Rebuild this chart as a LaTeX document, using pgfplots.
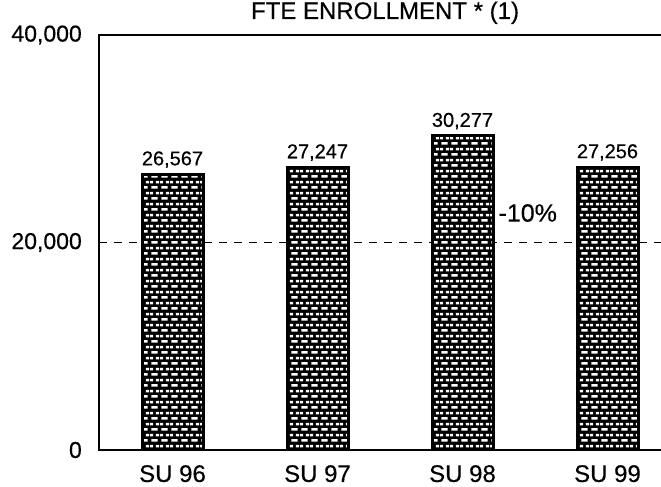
\documentclass[border=0pt]{standalone}
\usepackage{fontspec}
\setmainfont{Liberation Sans}[FakeBold=0.4]
\usepackage{pgfplots}
\pgfplotsset{compat=1.18}
\usetikzlibrary{patterns}

% white bricks on a black ground, about the size of the scanned ones
\pgfdeclarepatternformonly{whitebricks}{\pgfqpoint{0pt}{0pt}}{\pgfqpoint{10pt}{11.2pt}}{\pgfqpoint{10pt}{11.2pt}}{%
  \pgfpathrectangle{\pgfqpoint{1.5pt}{1.5pt}}{\pgfqpoint{7pt}{2.6pt}}%
  \pgfpathrectangle{\pgfqpoint{0pt}{7.1pt}}{\pgfqpoint{3.5pt}{2.6pt}}%
  \pgfpathrectangle{\pgfqpoint{6.5pt}{7.1pt}}{\pgfqpoint{3.5pt}{2.6pt}}%
  \pgfusepath{fill}}

\begin{document}
\begin{tikzpicture}
\useasboundingbox (-99pt,-37pt) rectangle (562pt,450pt);
\begin{axis}[
    scale only axis,
    width=562pt, height=415pt,
    xmin=-0.507, xmax=3.369,
    ymin=0, ymax=40000,
    scaled y ticks=false,
    xtick={0,1,2,3},
    xticklabels={SU 96, SU 97, SU 98, SU 99},
    ytick={0,40000},
    extra y ticks={20000},
    extra y tick style={
      grid=major,
      major tick length=6pt,
      tick style={line width=1.5pt, black},
      grid style={line width=1.1pt, black, dash pattern=on 8pt off 7pt},
    },
    major tick length=0pt,
    axis line style={draw=none},
    /pgf/number format/.cd, fixed, precision=0, 1000 sep={,}, assume math mode=true,
    /pgfplots/.cd,
    ticklabel style={font=\fontsize{23}{26}\selectfont, inner sep=0pt},
    yticklabel style={xshift=-17pt},
    xticklabel style={font=\fontsize{24}{27}\selectfont, yshift=-15pt},
    title={FTE ENROLLMENT * (1)},
    title style={at={(0.509,1)}, anchor=base, yshift=10pt, inner sep=0pt,
      font=\fontsize{24}{27}\selectfont},
    nodes near coords,
    every node near coord/.append style={font=\fontsize{20}{22}\selectfont,
      anchor=south, inner sep=0pt, yshift=5pt},
    after end axis/.code={
      \draw[line width=2.6pt, line join=miter]
        (rel axis cs:1,1) -- (rel axis cs:0,1) -- (rel axis cs:0,0) -- (rel axis cs:1,0);
    },
  ]
  \addplot[ybar, bar width=61pt, draw=black, line width=3pt,
    preaction={fill=black}, pattern=whitebricks, pattern color=white]
    coordinates {(0,26567) (1,27247) (2,30277) (3,27256)};
  \node[font=\fontsize{25}{28}\selectfont] at (axis cs:2.45,22843) {-10\%};
\end{axis}
\end{tikzpicture}
\end{document}
